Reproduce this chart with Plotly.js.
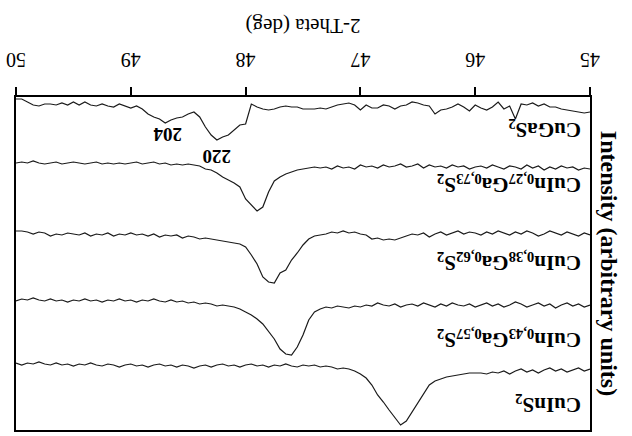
<!DOCTYPE html>
<html><head><meta charset="utf-8">
<script src="https://cdn.plot.ly/plotly-3.0.1.min.js"></script>
<style>
html,body{margin:0;padding:0;background:#fff;overflow:hidden;}
#chart{width:632px;height:436px;transform:rotate(180deg);transform-origin:50% 50%;}
</style></head><body><div id="chart"></div>
<script>
// 2-Theta grid (deg)
const theta = [45.00,45.05,45.10,45.15,45.20,45.25,45.30,45.35,45.40,45.45,
45.50,45.55,45.60,45.65,45.70,45.75,45.80,45.85,45.90,45.95,
46.00,46.05,46.10,46.15,46.20,46.25,46.30,46.35,46.40,46.45,
46.50,46.55,46.60,46.65,46.70,46.75,46.80,46.85,46.90,46.95,
47.00,47.05,47.10,47.15,47.20,47.25,47.30,47.35,47.40,47.45,
47.50,47.55,47.60,47.65,47.70,47.75,47.80,47.85,47.90,47.95,
48.00,48.05,48.10,48.15,48.20,48.25,48.30,48.35,48.40,48.45,
48.50,48.55,48.60,48.65,48.70,48.75,48.80,48.85,48.90,48.95,
49.00,49.05,49.10,49.15,49.20,49.25,49.30,49.35,49.40,49.45,
49.50,49.55,49.60,49.65,49.70,49.75,49.80,49.85,49.90,49.95,
50.00];

// Intensities (arbitrary units, stacked as in the figure)
const cuGaS2 = [15,16,15,14,13,12,10,10,7,9,
6,8,7,22,9,12,5,10,13,11,
8,14,10,7,10,12,13,17,9,8,
6,5,8,9,12,9,8,11,11,8,
13,8,6,7,8,10,12,11,12,12,
12,10,10,9,10,12,13,12,10,7,
27,28,33,38,40,43,38,30,20,15,
17,20,21,23,26,22,20,17,12,9,
11,9,7,10,9,7,9,8,5,8,
5,8,6,8,7,7,9,8,5,2,
2];

const cuIn27 = [72,71,73,70,71,69,72,70,73,69,
71,68,72,70,69,72,70,68,71,69,
70,72,69,70,68,71,69,70,68,71,
67,69,70,67,69,70,68,71,69,70,
68,72,70,71,69,72,70,71,70,71,
72,73,75,77,80,84,95,110,114,108,
102,90,86,83,80,76,73,72,69,68,
67,68,67,68,66,67,65,66,67,65,
66,67,66,67,66,67,65,66,67,66,
65,66,67,65,66,67,66,64,66,65,
66];

const cuIn38 = [138,136,139,137,135,138,136,134,137,139,
136,134,137,135,138,136,134,137,135,138,
136,135,137,134,136,138,135,137,140,136,
138,137,139,141,143,142,143,141,142,138,
137,135,136,134,136,135,137,138,139,142,
148,156,163,173,176,186,185,180,167,158,
150,147,146,145,144,143,142,141,142,140,
139,141,138,139,138,140,137,139,137,138,
136,138,137,139,136,138,137,139,136,138,
137,136,138,137,139,136,135,137,135,134,
134];

const cuIn43 = [208,210,207,209,206,208,211,207,209,206,
208,210,207,205,208,210,207,209,206,208,
210,207,209,208,206,209,207,210,208,206,
209,207,208,210,207,209,208,206,209,208,
210,209,211,210,209,211,210,212,215,223,
238,250,258,257,252,242,234,227,222,218,
215,212,210,209,208,209,207,206,207,205,
206,204,205,203,205,204,202,204,203,205,
203,204,202,204,203,205,203,204,202,204,
203,205,203,204,202,204,203,201,203,202,
204];

const cuInS2 = [272,274,271,273,275,272,274,271,273,276,
273,275,272,274,277,274,276,275,277,276,
276,276,277,278,279,280,282,284,288,297,
307,316,324,328,321,313,305,298,288,281,
277,274,272,271,272,270,269,270,268,269,
268,270,269,267,269,268,270,268,269,267,
268,270,268,269,267,268,270,268,269,271,
269,268,270,268,269,267,268,270,268,269,
267,268,270,268,267,269,268,266,268,267,
269,267,268,266,268,267,265,267,266,268,
266];

const seriesLabels = ["CuGaS<sub>2</sub>",
  "CuIn<sub>0,27</sub>Ga<sub>0,73</sub>S<sub>2</sub>",
  "CuIn<sub>0,38</sub>Ga<sub>0,62</sub>S<sub>2</sub>",
  "CuIn<sub>0,43</sub>Ga<sub>0,57</sub>S<sub>2</sub>",
  "CuInS<sub>2</sub>"];
const labelY = [32, 87, 165, 242, 307];
const labelTheta = 45.06;

const peakLabels = ["204", "220"];
const peakTheta = [48.68, 48.25];
const peakY = [38, 60];

const xTicks = [45, 46, 47, 48, 49, 50];

const series = [cuGaS2, cuIn27, cuIn38, cuIn43, cuInS2];
const serif = "Liberation Serif, Times New Roman, serif";

const traces = series.map((s, i) => ({
  x: theta, y: s, type: 'scatter', mode: 'lines',
  line: {color: '#1a1a1a', width: 1.2}, name: seriesLabels[i],
  hoverinfo: 'skip'
}));

const annotations = [];
seriesLabels.forEach((t, i) => annotations.push({
  x: labelTheta, y: labelY[i], xref: 'x', yref: 'y', text: '<b>' + t + '</b>',
  showarrow: false, xanchor: 'left', yanchor: 'middle',
  font: {family: serif, size: 21, color: '#000'}
}));
peakLabels.forEach((t, i) => annotations.push({
  x: peakTheta[i], y: peakY[i], xref: 'x', yref: 'y', text: '<b>' + t + '</b>',
  showarrow: false, xanchor: 'center', yanchor: 'middle',
  font: {family: serif, size: 19, color: '#000'}
}));

const layout = {
  width: 632, height: 436,
  margin: {l: 42, r: 16, t: 6, b: 97},
  paper_bgcolor: '#fff', plot_bgcolor: '#fff',
  showlegend: false,
  font: {family: serif, color: '#000'},
  xaxis: {
    range: [45, 50], tickvals: xTicks, ticktext: xTicks.map(String),
    ticks: 'outside', ticklen: 8, tickwidth: 2, tickcolor: '#000',
    showline: true, linewidth: 2, linecolor: '#000', mirror: true,
    showgrid: false, zeroline: false,
    tickfont: {family: serif, size: 20, color: '#000'},
    ticklabelstandoff: 10,
    title: {text: '2-Theta (deg)', font: {family: serif, size: 21, color: '#000'}, standoff: 16}
  },
  yaxis: {
    range: [0, 333], showticklabels: false, ticks: '',
    showline: true, linewidth: 2, linecolor: '#000', mirror: true,
    showgrid: false, zeroline: false,
    title: {text: '<b>Intensity (arbitrary units)</b>', font: {family: serif, size: 24, color: '#000'}, standoff: 2}
  },
  annotations: annotations
};

Plotly.newPlot('chart', traces, layout, {displayModeBar: false, staticPlot: true});
</script></body></html>
